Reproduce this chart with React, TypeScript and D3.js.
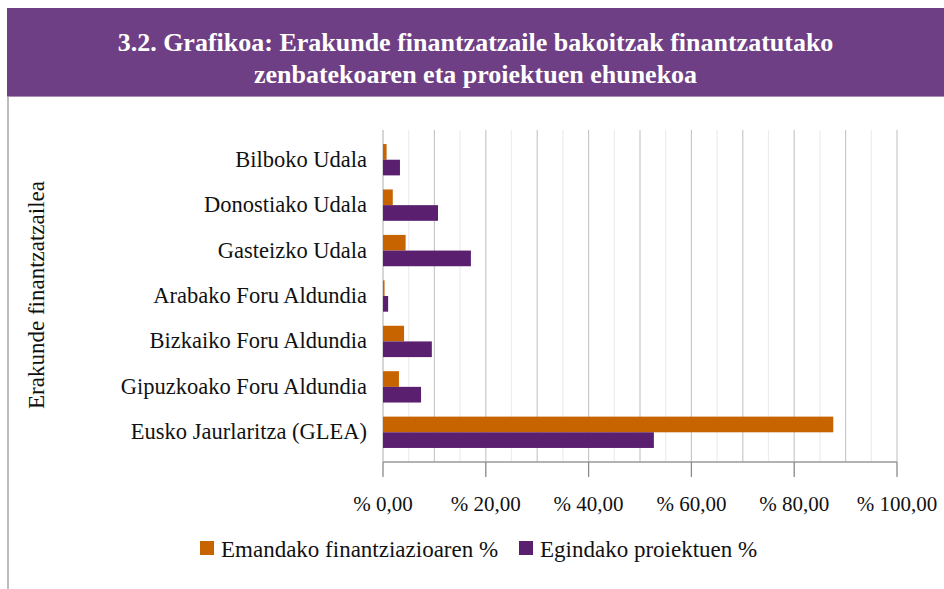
import React from "react";
import * as d3 from "d3";

const categories = [
  "Bilboko Udala",
  "Donostiako Udala",
  "Gasteizko Udala",
  "Arabako Foru Aldundia",
  "Bizkaiko Foru Aldundia",
  "Gipuzkoako Foru Aldundia",
  "Eusko Jaurlaritza (GLEA)",
];
const financing = [0.7, 1.9, 4.4, 0.3, 4.1, 3.1, 87.6];
const projects = [3.3, 10.7, 17.1, 1.0, 9.5, 7.4, 52.7];
const seriesNames = ["Emandako finantziazioaren %", "Egindako proiektuen %"];
const tickValues = [0, 20, 40, 60, 80, 100];
const titleLines = [
  "3.2. Grafikoa: Erakunde finantzatzaile bakoitzak finantzatutako",
  "zenbatekoaren eta proiektuen ehunekoa",
];
const yAxisTitle = "Erakunde finantzatzailea";

const W = 944;
const H = 589;
const ORANGE = "#C86400";
const PURPLE = "#5A1F6E";
const FONT = '"Liberation Serif", "Times New Roman", serif';

export default function App() {
  const x = d3.scaleLinear().domain([0, 100]).range([383, 897]);
  const y = d3.scaleBand<string>().domain(categories).range([137, 455]).paddingInner(0.31).paddingOuter(0.155);
  const plotTop = 130;
  const axisY = 462;
  const bh = y.bandwidth() / 2;
  const gridVals = d3.range(0, 101, 5);
  const fmt = (v: number) => "% " + v.toFixed(2).replace(".", ",");
  const ts = (size: number, extra: React.CSSProperties = {}) => ({ fontFamily: FONT, fontSize: size, ...extra });

  return (
    <svg width={W} height={H} style={{ position: "absolute", left: 0, top: 0, background: "#fff" }}>
      <rect x={0} y={0} width={W} height={H} fill="#fff" />
      {/* title band */}
      <rect x={7} y={8} width={W - 7} height={88} fill="#6F3F85" />
      <line x1={7} x2={W} y1={96.5} y2={96.5} stroke="#A98BB8" strokeWidth={1} />
      {titleLines.map((t, i) => (
        <text key={i} x={(7 + W) / 2} y={51 + i * 32} textAnchor="middle" fill="#fff" style={ts(26, { fontWeight: 600 })}>
          {t}
        </text>
      ))}
      {/* left frame */}
      <line x1={8} x2={8} y1={97} y2={H} stroke="#BDBDBD" strokeWidth={2} />
      {/* gridlines */}
      {gridVals.map((v) => (
        <line
          key={v}
          x1={x(v)}
          x2={x(v)}
          y1={plotTop}
          y2={axisY}
          stroke={v % 10 === 0 ? "#C8C8C8" : "#EDEDED"}
          strokeWidth={v === 0 ? 1.5 : 1.2}
        />
      ))}
      {/* bars */}
      {categories.map((c, i) => (
        <g key={c}>
          <rect x={x(0)} y={y(c)!} width={x(financing[i]) - x(0)} height={bh} fill={ORANGE} />
          <rect x={x(0)} y={y(c)! + bh} width={x(projects[i]) - x(0)} height={bh} fill={PURPLE} />
          <text x={367} y={y(c)! + bh + 7} textAnchor="end" fill="#111" style={ts(22.5)}>
            {c}
          </text>
        </g>
      ))}
      {/* x axis */}
      <line x1={x(0)} x2={x(100)} y1={axisY} y2={axisY} stroke="#9A9A9A" strokeWidth={1.5} />
      {tickValues.map((v) => (
        <g key={v}>
          <line x1={x(v)} x2={x(v)} y1={axisY} y2={axisY + 15} stroke="#8A8A8A" strokeWidth={1.3} />
          <text x={x(v)} y={511} textAnchor="middle" fill="#111" style={ts(21)}>
            {fmt(v)}
          </text>
        </g>
      ))}
      {/* y axis title */}
      <text transform={`translate(44,295) rotate(-90)`} textAnchor="middle" fill="#111" style={ts(23)}>
        {yAxisTitle}
      </text>
      {/* legend */}
      <rect x={200} y={541} width={14} height={14} fill={ORANGE} />
      <text x={221} y={557} fill="#111" style={ts(23)}>{seriesNames[0]}</text>
      <rect x={519} y={541} width={14} height={14} fill={PURPLE} />
      <text x={540} y={557} fill="#111" style={ts(23)}>{seriesNames[1]}</text>
    </svg>
  );
}
